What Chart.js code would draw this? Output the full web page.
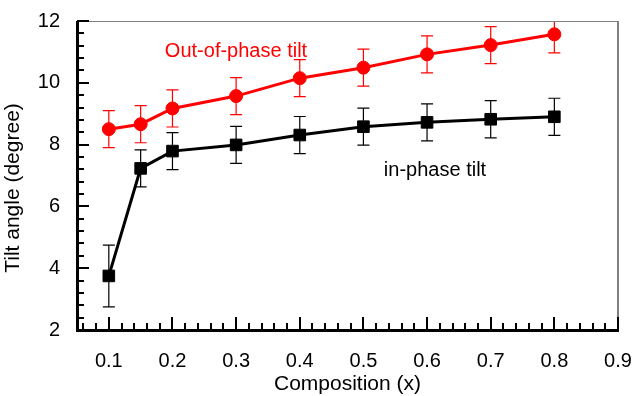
<!DOCTYPE html>
<html>
<head>
<meta charset="utf-8">
<script src="https://cdn.jsdelivr.net/npm/chart.js@4"></script>
<style>
html,body{margin:0;padding:0;background:#fff;}
#wrap{width:632px;height:396px;}
</style>
</head>
<body>
<div id="wrap"><canvas id="c" width="632" height="396"></canvas></div>
<script>
const composition = [0.1, 0.15, 0.2, 0.3, 0.4, 0.5, 0.6, 0.7, 0.8];
const outOfPhase = [8.50, 8.66, 9.17, 9.57, 10.15, 10.49, 10.92, 11.22, 11.57];
const outOfPhaseErr = [0.6, 0.6, 0.6, 0.6, 0.6, 0.6, 0.6, 0.6, 0.6];
const inPhase = [3.75, 7.23, 7.79, 7.99, 8.31, 8.58, 8.72, 8.82, 8.90];
const inPhaseErr = [1.0, 0.6, 0.6, 0.6, 0.6, 0.6, 0.6, 0.6, 0.6];
const xTickLabels = ['0.1','0.2','0.3','0.4','0.5','0.6','0.7','0.8','0.9'];
const yTickLabels = ['2','4','6','8','10','12'];
const xTitle = 'Composition (x)';
const yTitle = 'Tilt angle (degree)';
const labelOut = 'Out-of-phase tilt';
const labelIn = 'in-phase tilt';

const FONT = '"Liberation Sans", Arial, sans-serif';

function pts(xs, ys){ return xs.map((x,i)=>({x:x, y:ys[i]})); }

const errPlugin = {
  id:'errbars',
  beforeDatasetsDraw(chart){
    const ctx = chart.ctx, xs = chart.scales.x, ys = chart.scales.y;
    const sets = [
      {v:outOfPhase, e:outOfPhaseErr, c:'#ff0000'},
      {v:inPhase, e:inPhaseErr, c:'#000000'}
    ];
    const top = chart.chartArea.top;
    ctx.save();
    sets.forEach(s=>{
      ctx.strokeStyle = s.c; ctx.lineWidth = 1.2;
      composition.forEach((x,i)=>{
        const px = xs.getPixelForValue(x);
        const tRaw = ys.getPixelForValue(s.v[i]+s.e[i]);
        const t = Math.max(tRaw, top);
        const b = ys.getPixelForValue(s.v[i]-s.e[i]);
        ctx.beginPath();
        ctx.moveTo(px, t); ctx.lineTo(px, b);
        if (tRaw >= top) { ctx.moveTo(px-6, t); ctx.lineTo(px+6, t); }
        ctx.moveTo(px-6, b); ctx.lineTo(px+6, b);
        ctx.stroke();
      });
    });
    ctx.restore();
  }
};

const axesPlugin = {
  id:'axesframe',
  afterDatasetsDraw(chart){
    const ctx = chart.ctx, xs = chart.scales.x, ys = chart.scales.y;
    const a = chart.chartArea;
    const L = Math.round(a.left), R = Math.round(a.right), T = Math.round(a.top), B = Math.round(a.bottom);
    ctx.save();
    ctx.fillStyle = '#808080';
    ctx.fillRect(L, T, R - L, 1);
    ctx.fillRect(R - 1, T, 2, B - T);
    ctx.fillStyle = '#000000';
    ctx.fillRect(L - 1, T, 3, B - T + 1);
    ctx.fillRect(L - 1, B - 1, R - L + 2, 3);
    for (let k = Math.ceil(xs.min/0.02 - 1e-6); k*0.02 <= xs.max + 1e-9; k++) {
      const v = k*0.02;
      const major = Math.abs(v/0.1 - Math.round(v/0.1)) < 1e-6;
      const px = Math.round(xs.getPixelForValue(v));
      const len = major ? 13 : 7;
      ctx.fillRect(px - 1, B - len, 2, len);
    }
    for (let k = Math.ceil(ys.min/0.4 - 1e-6); k*0.4 <= ys.max + 1e-9; k++) {
      const v = k*0.4;
      const major = Math.abs(v/2 - Math.round(v/2)) < 1e-6;
      const py = Math.round(ys.getPixelForValue(v));
      const len = major ? 12 : 7;
      ctx.fillRect(L, py - 1, len, 2);
    }
    ctx.restore();
  }
};

const textPlugin = {
  id:'texts',
  afterDraw(chart){
    const ctx = chart.ctx, a = chart.chartArea;
    ctx.save();
    ctx.fillStyle = '#000000';
    ctx.font = '21px ' + FONT;
    ctx.textAlign = 'center'; ctx.textBaseline = 'middle';
    ctx.fillText(xTitle, (a.left + a.right)/2, 384);
    ctx.save();
    ctx.translate(13, 188);
    ctx.rotate(-Math.PI/2);
    ctx.fillText(yTitle, 0, 0);
    ctx.restore();
    ctx.font = '20px ' + FONT;
    ctx.fillStyle = '#ff0000';
    ctx.fillText(labelOut, 236, 51);
    ctx.fillStyle = '#000000';
    ctx.fillText(labelIn, 435, 170);
    ctx.restore();
  }
};

new Chart(document.getElementById('c'), {
  type:'scatter',
  data:{
    datasets:[
      {
        label:labelOut,
        data:pts(composition, outOfPhase),
        showLine:true,
        borderColor:'#ff0000',
        backgroundColor:'#ff0000',
        borderWidth:3,
        pointStyle:'circle',
        pointRadius:6.5,
        pointBorderWidth:1,
        pointBorderColor:'#ff0000',
        pointBackgroundColor:'#ff0000'
      },
      {
        label:labelIn,
        data:pts(composition, inPhase),
        showLine:true,
        borderColor:'#000',
        backgroundColor:'#000',
        borderWidth:3,
        pointStyle:'rect',
        pointRadius:8.2,
        pointBorderWidth:1,
        pointBorderColor:'#000',
        pointBackgroundColor:'#000'
      }
    ]
  },
  options:{
    responsive:false,
    animation:false,
    devicePixelRatio:1,
    layout:{padding:{top:21, right:14, left:0, bottom:0}},
    plugins:{legend:{display:false}, tooltip:{enabled:false}},
    scales:{
      x:{
        type:'linear', min:0.05, max:0.9,
        afterFit(s){ s.height = 66; s.paddingLeft = 0; s.paddingRight = 0; },
        grid:{display:false},
        border:{display:false},
        ticks:{
          stepSize:0.1, includeBounds:false, padding:11,
          color:'#000', font:{family:FONT, size:20},
          maxRotation:0, autoSkip:false,
          callback:(v)=>{ const i = Math.round(v*10)-1; return (Math.abs(v*10-Math.round(v*10))<1e-6 && xTickLabels[i]) ? xTickLabels[i] : ''; }
        }
      },
      y:{
        type:'linear', min:2, max:12,
        afterFit(s){ s.width = 77; s.paddingTop = 0; s.paddingBottom = 0; },
        grid:{display:false},
        border:{display:false},
        ticks:{
          stepSize:2, padding:9,
          color:'#000', font:{family:FONT, size:20},
          callback:(v)=>{ const i = Math.round((v-2)/2); return yTickLabels[i] !== undefined ? yTickLabels[i] : ''; }
        }
      }
    }
  },
  plugins:[errPlugin, axesPlugin, textPlugin]
});
</script>
</body>
</html>
